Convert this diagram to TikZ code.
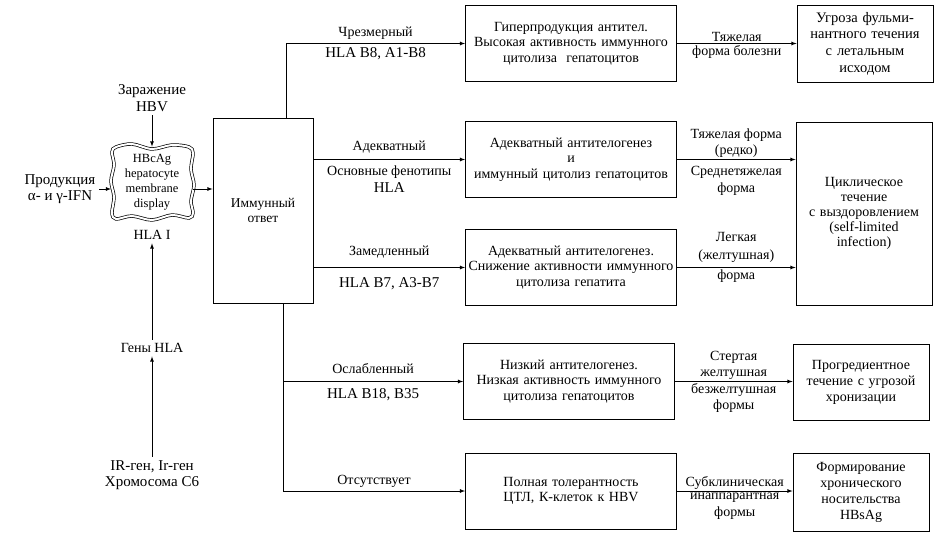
\documentclass[tikz,border=0pt]{standalone}
\usepackage{fontspec}
\setmainfont{Liberation Serif}
\tikzset{hepflow/.style={line width=0.8pt,-latex}}
\tikzset{midbox/.style={draw,-,align=center,text width=205pt,minimum height=76pt,inner sep=3pt,font=\fontsize{14}{15.5}\selectfont},
  endbox/.style={draw,-,align=center,text width=130pt,inner sep=3pt,font=\fontsize{14}{16}\selectfont},
  sidetext/.style={align=center,font=\fontsize{15}{16.5}\selectfont},
  branchtext/.style={align=center,font=\fontsize{14}{16.5}\selectfont},
  hlatext/.style={align=center,font=\fontsize{15}{17}\selectfont},
  formtext/.style={align=center,inner sep=1.5pt,font=\fontsize{14}{16.5}\selectfont}}

\begin{document}
\begin{tikzpicture}[hepflow,x=1pt,y=-1pt]
\useasboundingbox (0,0) rectangle (936,540);
% left column
\node[sidetext] (hbv) at (152,98) {Заражение\\HBV};
\node[align=center,minimum width=81pt,minimum height=70pt,inner sep=0pt,font=\fontsize{12.5}{15}\selectfont] (membrane) at (152,182) {HBcAg\\hepatocyte\\membrane\\display};
\draw[-,double,double distance=2pt,line width=0.7pt,shift={(membrane.center)}] plot[smooth cycle,tension=0.55] coordinates {(-36,-35) (-20,-38) (0,-33) (20,-37) (37,-35) (41,-29) (39,-13) (42,3) (39,19) (41,31) (37,36) (20,33) (0,38) (-20,34) (-36,37) (-40,31) (-38,15) (-41,-1) (-38,-17) (-40,-30)};
\node[sidetext] (ifn) at (60,189) {Продукция\\α- и γ-IFN};
\node[font=\fontsize{14}{16}\selectfont] (hlaI) at (152,235) {HLA I};
\node[font=\fontsize{14}{16}\selectfont] (genes) at (152,348) {Гены HLA};
\node[sidetext] (chrom) at (152,475) {IR-ген, Ir-ген\\Хромосома С6};
\node[draw,-,minimum width=100pt,minimum height=185pt,inner sep=0pt,align=center,font=\fontsize{13.5}{15.5}\selectfont] (immune) at (263,210.5) {Иммунный\\ответ};
% middle column
\node[midbox] (hyper) at (571,43.5) {Гиперпродукция антител.\\Высокая активность иммунного\\цитолиза~ гепатоцитов};
\node[midbox] (adequate) at (571,159.5) {Адекватный антителогенез\\и\\иммунный цитолиз гепатоцитов};
\node[midbox] (slowed) at (571,267.5) {Адекватный антителогенез.\\Снижение активности иммунного\\цитолиза гепатита};
\node[midbox] (weak) at (569,381.5) {Низкий антителогенез.\\Низкая активность иммунного\\цитолиза гепатоцитов};
\node[midbox] (toler) at (571,491) {Полная толерантность\\ЦТЛ, К-клеток к HBV};
% outcomes
\node[endbox,minimum height=77pt,font=\fontsize{14.5}{16.7}\selectfont] (fulm) at (865,43.5) {Угроза фульми-\\нантного течения\\с летальным\\исходом};
\node[endbox,minimum height=183pt,font=\fontsize{14}{15}\selectfont] (cyclic) at (864,213.5) {Циклическое\\течение\\с выздоровлением\\(self-limited\\infection)};
\node[endbox,minimum height=76pt] (progr) at (861,382) {Прогредиентное\\течение с угрозой\\хронизации};
\node[endbox,minimum height=78pt] (carrier) at (861,492) {Формирование\\хронического\\носительства\\HBsAg};
% left arrows
\draw (hbv) -- (membrane);
\draw (ifn.east) -- (ifn.east -| membrane.west);
\draw (membrane.east |- ifn.east) -- (immune.west |- ifn.east);
\draw (genes) -- (hlaI);
\draw (chrom) -- (genes);
% branches
\draw ([xshift=23pt]immune.north) |- (hyper.west) node[pos=0.75,above,branchtext] {Чрезмерный} node[pos=0.75,below,hlatext] {HLA B8, A1-B8};
\draw (immune.east |- adequate.west) -- (adequate.west) node[midway,above=3pt,branchtext] {Адекватный} node[midway,below=3pt,branchtext] {Основные фенотипы\\\fontsize{15}{17}\selectfont HLA};
\draw (immune.east |- slowed.west) -- (slowed.west) node[midway,above=6pt,branchtext] {Замедленный} node[midway,below=6pt,hlatext] {HLA B7, A3-B7};
\draw ([xshift=20pt]immune.south |- weak.west) -- (weak.west) node[midway,above=4pt,branchtext] {Ослабленный} node[midway,below=3pt,hlatext] {HLA B18, B35};
\draw ([xshift=20pt]immune.south) |- (toler.west) node[pos=0.75,above,branchtext] {Отсутствует};
% forms
\draw (hyper) -- (fulm) node[midway,above,formtext] {Тяжелая} node[midway,below,formtext] {форма болезни};
\draw (adequate.east) -- (adequate.east -| cyclic.west) node[midway,above,formtext] {Тяжелая форма\\(редко)} node[midway,below=5pt,formtext] {Среднетяжелая\\форма};
\draw (slowed.east) -- (slowed.east -| cyclic.west) node[midway,above=3pt,formtext,font=\fontsize{14}{18}\selectfont] {Легкая\\(желтушная)} node[midway,below,formtext] {форма};
\draw (weak.east) -- (weak.east -| progr.west) node[midway,above,formtext] {Стертая\\желтушная} node[midway,below,formtext] {безжелтушная\\формы};
\draw (toler.east) -- (toler.east -| carrier.west) node[midway,above,formtext] {Субклиническая} node[midway,below,formtext] {инаппарантная\\формы};
\end{tikzpicture}
\end{document}
